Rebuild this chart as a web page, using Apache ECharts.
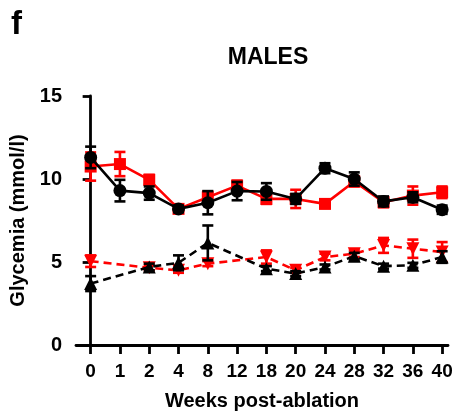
<!DOCTYPE html>
<html>
<head>
<meta charset="utf-8">
<script src="https://cdn.jsdelivr.net/npm/echarts@6/dist/echarts.min.js"></script>
<style>html,body{margin:0;padding:0;background:#fff}#c{width:456px;height:416px}</style>
</head>
<body>
<div id="c"></div>
<script>
const weeks = ['0','1','2','4','8','12','18','20','24','28','32','36','40'];
const yTicks = [0, 5, 10, 15];
// solid black (circles)
const blackSolid    = [11.3, 9.3, 9.15, 8.2, 8.57, 9.27, 9.25, 8.8, 10.65, 10.0, 8.65, 8.9, 8.15];
const blackSolidErr = [0.65, 0.65, 0.4, 0.2, 0.7, 0.55, 0.5, 0.3, 0.3, 0.4, 0.3, 0.3, 0.25];
// solid red (squares)
const redSolid    = [10.75, 10.9, 9.95, 8.2, 8.9, 9.6, 8.8, 8.8, 8.5, 9.85, 8.6, 9.0, 9.2];
const redSolidErr = [0.85, 0.73, 0.3, 0.2, 0.35, 0.3, 0.3, 0.55, 0.2, 0.3, 0.3, 0.55, 0.35];
// dashed red (triangle down)
const redDashed    = [5.05, null, 4.65, 4.5, 4.9, null, 5.3, 4.5, 5.3, 5.5, 6.0, 5.8, 5.6];
const redDashedErr = [0.35, null, 0.15, 0.15, 0.15, null, 0.4, 0.15, 0.2, 0.2, 0.45, 0.55, 0.6];
// dashed black (triangles)
const blackDashed    = [3.7, null, 4.7, 4.95, 6.15, null, 4.6, 4.3, 4.7, 5.35, 4.75, 4.8, 5.3];
const blackDashedErr = [0.45, null, 0.2, 0.45, 1.05, null, 0.15, 0.15, 0.15, 0.2, 0.15, 0.15, 0.35];

const FONT = '"Liberation Sans", Arial, sans-serif';
const RED = '#ff0000', BLK = '#000000';
const idx = weeks.map((w, i) => i);

function pts(vals) { return vals.map((v, i) => [i, v]); }
function errData(vals, errs) {
  return vals.map((v, i) => v == null ? null : [i, v, errs[i]]).filter(d => d);
}
function errSeries(vals, errs, color, z) {
  return {
    type: 'custom', z: z, silent: true,
    data: errData(vals, errs),
    renderItem: function (params, api) {
      const x = api.value(0), y = api.value(1), e = api.value(2);
      const top = api.coord([x, y + e]);
      const bot = api.coord([x, y - e]);
      const hw = 5.5;
      const st = { stroke: color, lineWidth: 2.6 };
      return {
        type: 'group',
        children: [
          { type: 'line', shape: { x1: top[0], y1: top[1], x2: bot[0], y2: bot[1] }, style: st },
          { type: 'line', shape: { x1: top[0] - hw, y1: top[1], x2: top[0] + hw, y2: top[1] }, style: st },
          { type: 'line', shape: { x1: bot[0] - hw, y1: bot[1], x2: bot[0] + hw, y2: bot[1] }, style: st }
        ]
      };
    }
  };
}
function lineSeries(vals, color, symbol, size, dashed, z, rotate) {
  return {
    type: 'line', z: z, data: pts(vals), connectNulls: true,
    symbol: symbol, symbolSize: size, symbolRotate: rotate || 0, showAllSymbol: true,
    itemStyle: { color: color },
    lineStyle: { color: color, width: 2.6, type: dashed ? [8, 5] : 'solid' },
    animation: false
  };
}

const chart = echarts.init(document.getElementById('c'), null, { renderer: 'canvas' });
chart.setOption({
  animation: false,
  backgroundColor: '#fff',
  title: [
    { text: 'f', left: 6, top: 3, textStyle: { fontFamily: FONT, fontWeight: 'bold', fontSize: 33, color: '#000' } },
    { text: 'MALES', left: 263, top: 41, textAlign: 'center', textStyle: { fontFamily: FONT, fontWeight: 'bold', fontSize: 23, color: '#000' } }
  ],
  grid: { left: 76, right: 8, top: 96, bottom: 68, containLabel: false },
  xAxis: {
    type: 'value', min: -0.5, max: 12.2,
    name: 'Weeks post-ablation', nameLocation: 'middle', nameGap: 46,
    nameTextStyle: { fontFamily: FONT, fontWeight: 'bold', fontSize: 20, color: '#000' },
    splitLine: { show: false },
    axisLine: { show: true, onZero: false, lineStyle: { color: '#000', width: 2.8 } },
    axisTick: { show: true, customValues: idx, length: 9, lineStyle: { color: '#000', width: 2.8 } },
    axisLabel: {
      customValues: idx, margin: 17,
      formatter: v => weeks[Math.round(v)],
      fontFamily: FONT, fontWeight: 'bold', fontSize: 19, color: '#000'
    }
  },
  yAxis: {
    type: 'value', min: 0, max: 15, interval: 5,
    name: 'Glycemia (mmol/l)', nameLocation: 'middle', nameGap: 42, nameRotate: 90,
    nameTextStyle: { fontFamily: FONT, fontWeight: 'bold', fontSize: 20, color: '#000' },
    splitLine: { show: false },
    axisLine: { show: true, lineStyle: { color: '#000', width: 2.8 } },
    axisTick: { show: true, length: 8, lineStyle: { color: '#000', width: 2.8 } },
    axisLabel: {
      margin: 14, fontFamily: FONT, fontWeight: 'bold', fontSize: 20, color: '#000',
      formatter: v => yTicks.indexOf(v) >= 0 ? String(v) : ''
    }
  },
  series: [
    errSeries(redSolid, redSolidErr, RED, 2),
    lineSeries(redSolid, RED, 'rect', 12, false, 3),
    errSeries(blackSolid, blackSolidErr, BLK, 4),
    lineSeries(blackSolid, BLK, 'circle', 13, false, 5),
    errSeries(redDashed, redDashedErr, RED, 6),
    lineSeries(redDashed, RED, 'triangle', 13, true, 7, 180),
    errSeries(blackDashed, blackDashedErr, BLK, 8),
    lineSeries(blackDashed, BLK, 'triangle', 13, true, 9)
  ]
});
</script>
</body>
</html>
